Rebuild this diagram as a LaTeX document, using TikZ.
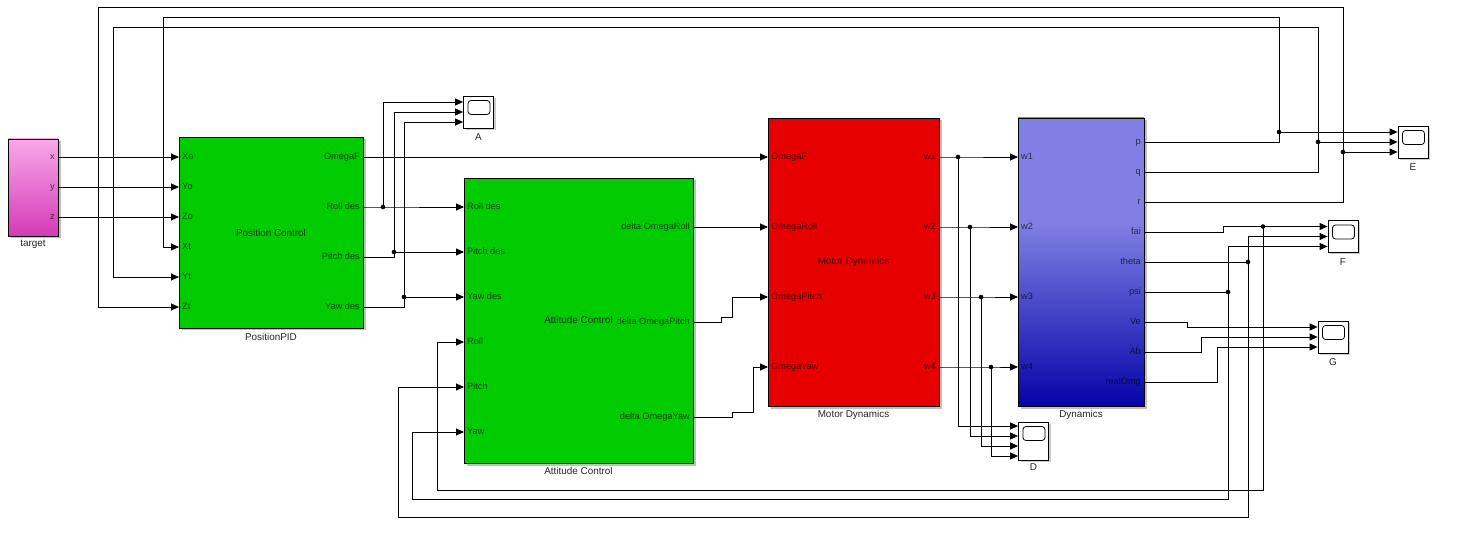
\documentclass[tikz,border=0pt]{standalone}
\usepackage{fontspec}
\setmainfont{Liberation Sans}
\usetikzlibrary{arrows.meta,shadows,fit,calc}
\definecolor{simgreen}{RGB}{0,204,0}
\definecolor{simred}{RGB}{230,0,0}
\definecolor{dyntop}{RGB}{128,128,228}
\definecolor{dynbot}{RGB}{4,4,168}
\definecolor{tgttop}{RGB}{248,168,234}
\definecolor{tgtbot}{RGB}{212,58,182}
\pgfdeclareverticalshading{dynshade}{100bp}{color(0bp)=(dynbot); color(25bp)=(dynbot); color(57bp)=(dyntop); color(100bp)=(dyntop)}
\newcommand\portin[4]{\coordinate (#1) at (#2,#3); \node[inlab] (#1L) at (#2+3,#3) {#4};}
\newcommand\portout[4]{\coordinate (#1) at (#2,#3); \node[outlab] (#1L) at (#2-3,#3) {#4};}
\tikzset{
  x=1pt, y=-1pt,
  every node/.style={font=\fontsize{9.2pt}{11pt}\selectfont},
  blk/.style={draw=black, line width=0.9pt, inner sep=0pt,
    drop shadow={shadow xshift=2.5pt, shadow yshift=-2.5pt, opacity=0.25, fill=black}},
  inlab/.style={anchor=west, inner sep=0pt, text opacity=0.65, text height=6.6pt, text depth=1.7pt},
  outlab/.style={anchor=east, inner sep=0pt, text opacity=0.65, text height=6.6pt, text depth=1.7pt},
  midlab/.style={inner sep=0pt, text opacity=0.75, font=\fontsize{9.9pt}{12pt}\selectfont},
  blab/.style={inner sep=0pt, text=black!85, font=\fontsize{9.9pt}{12pt}\selectfont},
  scopebox/.style={draw=black, line width=0.8pt, fill=white, inner sep=0pt,
    minimum width=30pt, minimum height=32pt,
    drop shadow={shadow xshift=2pt, shadow yshift=-2pt, opacity=0.2, fill=black},
    path picture={\draw[line width=0.8pt, rounded corners=3pt]
      ($(path picture bounding box.north west)+(4.5pt,-4.5pt)$) rectangle ++(22pt,-14pt);}},
  sig/.style={line width=0.9pt, -{Triangle[length=8pt,width=7pt]}},
  wire/.style={line width=0.9pt},
  dot/.style={circle, fill=black, inner sep=0pt, minimum size=4.6pt},
}
\begin{document}
\begin{tikzpicture}
\useasboundingbox (0,0) rectangle (1476,537);

% ---------- blocks ----------
\node[blk, top color=tgttop, bottom color=tgtbot, fit={(8,139)(58,236)}] (tg) {};
\node[blab] (tgL) at (33,244) {target};

\node[blk, fill=simgreen, fit={(179,137)(363,328)}] (pc) {};
\node[midlab] (pcM) at (271,232.5) {Position Control};
\node[blab] (pcL) at (271,336.5) {PositionPID};

\node[blk, fill=simgreen, fit={(464,178)(693,463)}] (ac) {};
\node[midlab] (acM) at (578.5,320) {Attitude Control};
\node[blab] (acL) at (578.5,471) {Attitude Control};

\node[blk, fill=simred, fit={(768,118)(939,406)}] (md) {};
\node[midlab] (mdM) at (853.5,262) {Motor Dynamics};
\node[blab] (mdL) at (853.5,414.5) {Motor Dynamics};

\node[blk, shade, shading=dynshade, fit={(1018,118)(1144,406)}] (dy) {};
\node[blab] (dyL) at (1081,414.5) {Dynamics};

% ---------- scopes ----------
\node[scopebox] (sA) at (478.5,112) {};
\node[blab] (sAL) at (478.5,137) {A};
\node[scopebox] (sE) at (1413,142) {};
\node[blab] (sEL) at (1413,167) {E};
\node[scopebox] (sF) at (1343,236.5) {};
\node[blab] (sFL) at (1343,262) {F};
\node[scopebox] (sG) at (1333,337) {};
\node[blab] (sGL) at (1333,362) {G};
\node[scopebox, minimum height=38pt] (sD) at (1033.5,441) {};
\node[blab] (sDL) at (1033.5,467) {D};

\coordinate (sA1) at ($(sA.west)+(0,-10)$);
\coordinate (sA2) at (sA.west);
\coordinate (sA3) at ($(sA.west)+(0,10)$);
\coordinate (sE1) at ($(sE.west)+(0,-10)$);
\coordinate (sE2) at (sE.west);
\coordinate (sE3) at ($(sE.west)+(0,10)$);
\coordinate (sF1) at ($(sF.west)+(0,-10)$);
\coordinate (sF2) at (sF.west);
\coordinate (sF3) at ($(sF.west)+(0,10)$);
\coordinate (sG1) at ($(sG.west)+(0,-10)$);
\coordinate (sG2) at (sG.west);
\coordinate (sG3) at ($(sG.west)+(0,10)$);
\coordinate (sD1) at ($(sD.west)+(0,-15)$);
\coordinate (sD2) at ($(sD.west)+(0,-5)$);
\coordinate (sD3) at ($(sD.west)+(0,5)$);
\coordinate (sD4) at ($(sD.west)+(0,15)$);

% ---------- ports ----------
\portout{tgx}{58}{157}{x}
\portout{tgy}{58}{187}{y}
\portout{tgz}{58}{217}{z}

\portin{pcXo}{179}{157}{Xo}
\portin{pcYo}{179}{187}{Yo}
\portin{pcZo}{179}{217}{Zo}
\portin{pcXt}{179}{247}{Xt}
\portin{pcYt}{179}{277}{Yt}
\portin{pcZt}{179}{307}{Zt}
\portout{pcoF}{363}{157}{OmegaF}
\portout{pcoR}{363}{207}{Roll des}
\portout{pcoP}{363}{257}{Pitch des}
\portout{pcoY}{363}{307}{Yaw des}

\portin{aciRd}{464}{207}{Roll des}
\portin{aciPd}{464}{252}{Pitch des}
\portin{aciYd}{464}{297}{Yaw des}
\portin{aciR}{464}{342}{Roll}
\portin{aciP}{464}{387}{Pitch}
\portin{aciY}{464}{432}{Yaw}
\portout{acoR}{693}{227}{delta OmegaRoll}
\portout{acoP}{693}{322}{delta OmegaPitch}
\portout{acoY}{693}{417}{delta OmegaYaw}

\portin{mdiF}{768}{157}{OmegaF}
\portin{mdiR}{768}{227}{OmegaRoll}
\portin{mdiP}{768}{297}{OmegaPitch}
\portin{mdiY}{768}{367}{OmegaYaw}
\portout{mdw1}{939}{157}{w1}
\portout{mdw2}{939}{227}{w2}
\portout{mdw3}{939}{297}{w3}
\portout{mdw4}{939}{367}{w4}

\portin{dyw1}{1018}{157}{w1}
\portin{dyw2}{1018}{227}{w2}
\portin{dyw3}{1018}{297}{w3}
\portin{dyw4}{1018}{367}{w4}
\portout{dyp}{1144}{142}{p}
\portout{dyq}{1144}{172}{q}
\portout{dyr}{1144}{202}{r}
\portout{dyfai}{1144}{232}{fai}
\portout{dyth}{1144}{262}{theta}
\portout{dypsi}{1144}{292}{psi}
\portout{dyVe}{1144}{322}{Ve}
\portout{dyAb}{1144}{352}{Ab}
\portout{dyrO}{1144}{382}{realOmg}

% ---------- junctions and lanes ----------
\node[dot] (j1) at (383,207) {};
\node[dot] (j2) at (394,252) {};
\node[dot] (j3) at (404,297) {};
\node[dot] (jw1) at (958,157) {};
\node[dot] (jw2) at (970,227) {};
\node[dot] (jw3) at (981,297) {};
\node[dot] (jw4) at (991,367) {};
\node[dot] (jp) at (1279,132) {};
\node[dot] (jq) at (1318,142) {};
\node[dot] (jr) at (1343,152) {};
\node[dot] (jfai) at (1263,226.5) {};
\node[dot] (jth) at (1248,262) {};
\node[dot] (jpsi) at (1228,292) {};

\coordinate (laneP) at (163,17);
\coordinate (laneQ) at (113,27);
\coordinate (laneR) at (98,7);
\coordinate (laneRoll) at (437,490);
\coordinate (laneYaw) at (412,499);
\coordinate (lanePitch) at (398,517);

% ---------- connectors ----------
\draw[sig] (tgx) -- (pcXo);
\draw[sig] (tgy) -- (pcYo);
\draw[sig] (tgz) -- (pcZo);

\draw[sig] (pcoF) -- (mdiF);
\draw[sig] (pcoR) -- (j1.center) -- (aciRd);
\draw[sig] (j1.center) |- (sA1);
\draw[sig] (pcoP) -| (j2.center) -- (aciPd);
\draw[sig] (j2.center) |- (sA2);
\draw[sig] (pcoY) -| (j3.center) -- (aciYd);
\draw[sig] (j3.center) |- (sA3);

\draw[sig] (acoR) -- (mdiR);
\draw[sig] (acoP) -- ++(28,0) -- ++(0,-5) -- ++(11,0) |- (mdiP);
\draw[sig] (acoY) -- ++(39,0) -- ++(0,-5) -- ++(21,0) |- (mdiY);

\draw[sig] (mdw1) -- (jw1.center) -- (dyw1);
\draw[sig] (mdw2) -- (jw2.center) -- (dyw2);
\draw[sig] (mdw3) -- (jw3.center) -- (dyw3);
\draw[sig] (mdw4) -- (jw4.center) -- (dyw4);
\draw[sig] (jw1.center) |- (sD1);
\draw[sig] (jw2.center) |- (sD2);
\draw[sig] (jw3.center) |- (sD3);
\draw[sig] (jw4.center) |- (sD4);

\draw[sig] (dyp) -| (jp.center) -- (sE1);
\draw[sig] (dyq) -| (jq.center) -- (sE2);
\draw[sig] (dyr) -| (jr.center) -- (sE3);
\draw[sig] (jp.center) |- (laneP) |- (pcXt);
\draw[sig] (jq.center) |- (laneQ) |- (pcYt);
\draw[sig] (jr.center) |- (laneR) |- (pcZt);

\draw[sig] (dyfai) -- ++(79,0) |- (sF1);
\draw[sig] (dyth) -- (jth.center) |- (sF2);
\draw[sig] (dypsi) -- (jpsi.center) |- (sF3);
\draw[sig] (jfai.center) |- (laneRoll) |- (aciR);
\draw[sig] (jth.center) |- (lanePitch) |- (aciP);
\draw[sig] (jpsi.center) |- (laneYaw) |- (aciY);

\draw[sig] (dyVe) -- ++(43,0) |- (sG1);
\draw[sig] (dyAb) -- ++(57,0) |- (sG2);
\draw[sig] (dyrO) -- ++(73,0) |- (sG3);
\end{tikzpicture}
\end{document}
